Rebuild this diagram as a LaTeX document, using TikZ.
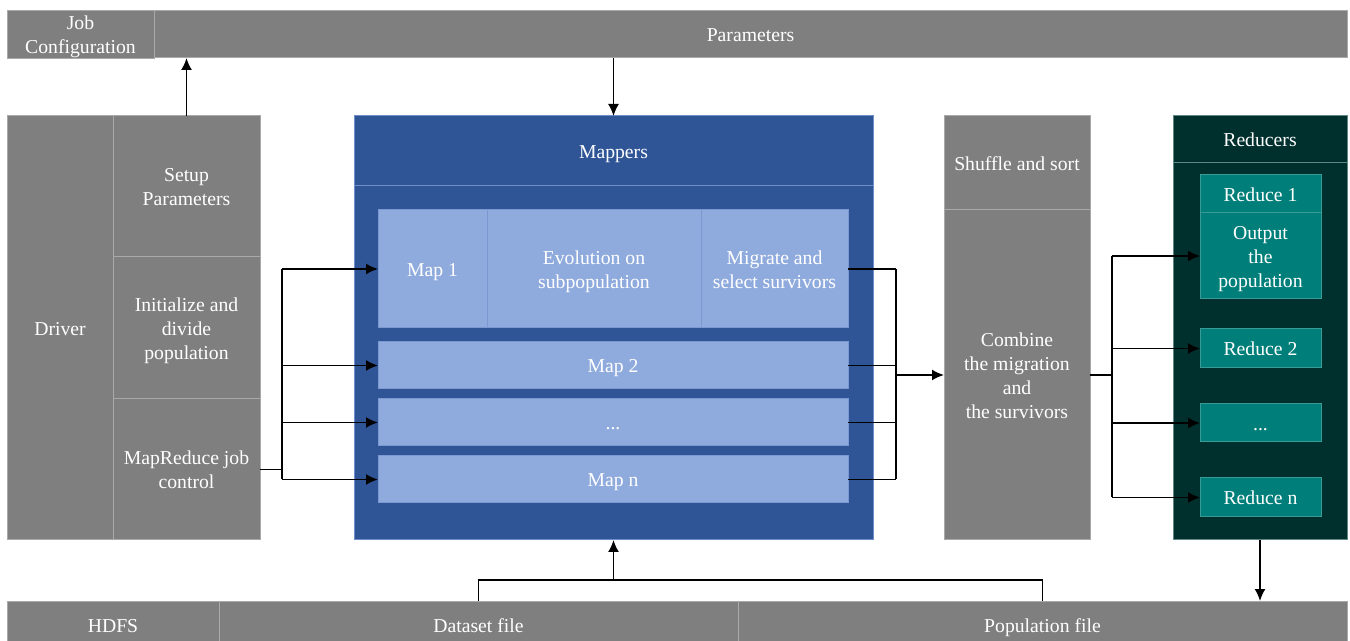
\documentclass[tikz,border=0pt]{standalone}
\usepackage{fontspec}
\setmainfont{Liberation Serif}
\usetikzlibrary{arrows.meta}
\definecolor{cgray}{HTML}{7F7F7F}
\definecolor{glines}{HTML}{A9A9A9}
\definecolor{cblue}{HTML}{2F5597}
\definecolor{blines}{HTML}{6F8FCB}
\definecolor{cmap}{HTML}{8FAADC}
\definecolor{maplines}{HTML}{7C98D0}
\definecolor{cdark}{HTML}{00302E}
\definecolor{dlines}{HTML}{5F8785}
\definecolor{cteal}{HTML}{007F7A}
\definecolor{tlines}{HTML}{3A9A95}
\newcommand\figfont{\fontsize{9.85}{12}\selectfont}
\newcommand\mytopstrut{\rule{0pt}{9.4pt}}
\newcommand\mybotstrut{\rule[-2.2pt]{0pt}{2.2pt}}
% \cellbox{style}{name}{x1}{y1}{x2}{y2}{text}
\newcommand\cellbox[7]{\node[#1, minimum width={(#5-#3)*0.5pt}, minimum height={(#6-#4)*0.5pt}] (#2) at ({(#3+#5)/2},{(#4+#6)/2}) {\mytopstrut#7\mybotstrut};}
\tikzset{
  box/.style={inner sep=0pt, outer sep=0pt, align=center, text=white, font=\figfont, line width=0.5pt},
  gcell/.style={box, fill=cgray, draw=glines},
  bcell/.style={box, fill=cblue, draw=blines},
  mcell/.style={box, fill=cmap, draw=maplines},
  dcell/.style={box, fill=cdark, draw=dlines},
  tcell/.style={box, fill=cteal, draw=tlines},
  ln/.style={line width=0.85pt, black},
  arr/.style={ln, -{Latex[length=6pt,width=5.5pt]}},
}
\begin{document}
\begin{tikzpicture}[x=0.5pt,y=-0.5pt]
\clip (0,0) rectangle (1350,641);
\fill[white] (0,0) rectangle (1350,641);
% top bar
\cellbox{gcell}{jobconf}{7}{11}{154}{58}{Job\\Configuration}
\cellbox{gcell}{params}{154}{11}{1347}{58}{Parameters}
% driver
\cellbox{gcell}{driver}{7}{116}{113}{540}{Driver}
\cellbox{gcell}{setup}{113}{116}{260}{257}{Setup\\Parameters}
\cellbox{gcell}{init}{113}{257}{260}{399}{Initialize and\\divide\\population}
\cellbox{gcell}{mrjc}{113}{399}{260}{540}{MapReduce job\\control}
% mappers
\cellbox{bcell}{mappers}{354}{116}{873}{540}{}
\cellbox{bcell}{mhead}{354}{116}{873}{186}{Mappers}
\cellbox{mcell}{map1}{378}{210}{487}{328}{Map 1}
\cellbox{mcell}{evo}{487}{210}{701}{328}{Evolution on\\subpopulation}
\cellbox{mcell}{migr}{701}{210}{848}{328}{Migrate and\\select survivors}
\cellbox{mcell}{map2}{378}{342}{848}{389}{Map 2}
\cellbox{mcell}{mapdots}{378}{399}{848}{446}{...}
\cellbox{mcell}{mapn}{378}{456}{848}{503}{Map n}
% shuffle
\cellbox{gcell}{shuffle}{944}{116}{1090}{210}{Shuffle and sort}
\cellbox{gcell}{combine}{944}{210}{1090}{540}{Combine\\the migration\\and\\the survivors}
% reducers
\cellbox{dcell}{reducers}{1173}{116}{1347}{540}{}
\cellbox{dcell}{rhead}{1173}{116}{1347}{163}{Reducers}
\cellbox{tcell}{red1}{1200}{175}{1321}{213}{Reduce 1}
\cellbox{tcell}{output}{1200}{213}{1321}{299}{Output\\the\\population}
\cellbox{tcell}{red2}{1200}{329}{1321}{368}{Reduce 2}
\cellbox{tcell}{reddots}{1200}{404}{1321}{442}{...}
\cellbox{tcell}{redn}{1200}{478}{1321}{517}{Reduce n}
% bottom bar
\cellbox{gcell}{hdfs}{7}{601}{219}{649}{HDFS}
\cellbox{gcell}{dataset}{219}{601}{738}{649}{Dataset file}
\cellbox{gcell}{popfile}{738}{601}{1347}{649}{Population file}
% connectors
\draw[arr] (setup.north) -- (setup.north |- params.south);
\draw[arr] (mappers.north |- params.south) -- (mappers.north);
\coordinate (lb) at (282,0);
\draw[ln] (mrjc.east) -- (mrjc.east -| lb);
\draw[ln] (map1.west -| lb) -- (mapn.west -| lb);
\draw[arr] (map1.west -| lb) -- (map1.west);
\draw[arr] (map2.west -| lb) -- (map2.west);
\draw[arr] (mapdots.west -| lb) -- (mapdots.west);
\draw[arr] (mapn.west -| lb) -- (mapn.west);
\coordinate (rb) at (896,0);
\draw[ln] (migr.east) -- (migr.east -| rb);
\draw[ln] (map2.east) -- (map2.east -| rb);
\draw[ln] (mapdots.east) -- (mapdots.east -| rb);
\draw[ln] (mapn.east) -- (mapn.east -| rb);
\draw[ln] (migr.east -| rb) -- (mapn.east -| rb);
\draw[arr] (combine.west -| rb) -- (combine.west);
\coordinate (ob) at (1112,0);
\draw[ln] (combine.east) -- (combine.east -| ob);
\draw[ln] (output.west -| ob) -- (redn.west -| ob);
\draw[arr] (output.west -| ob) -- (output.west);
\draw[arr] (red2.west -| ob) -- (red2.west);
\draw[arr] (reddots.west -| ob) -- (reddots.west);
\draw[arr] (redn.west -| ob) -- (redn.west);
\draw[arr] (reducers.south) -- (reducers.south |- popfile.north);
\coordinate (bb) at (0,580);
\draw[ln] (dataset.north) -- (dataset.north |- bb) -- (popfile.north |- bb) -- (popfile.north);
\draw[arr] (mappers.south |- bb) -- (mappers.south);
\end{tikzpicture}
\end{document}
